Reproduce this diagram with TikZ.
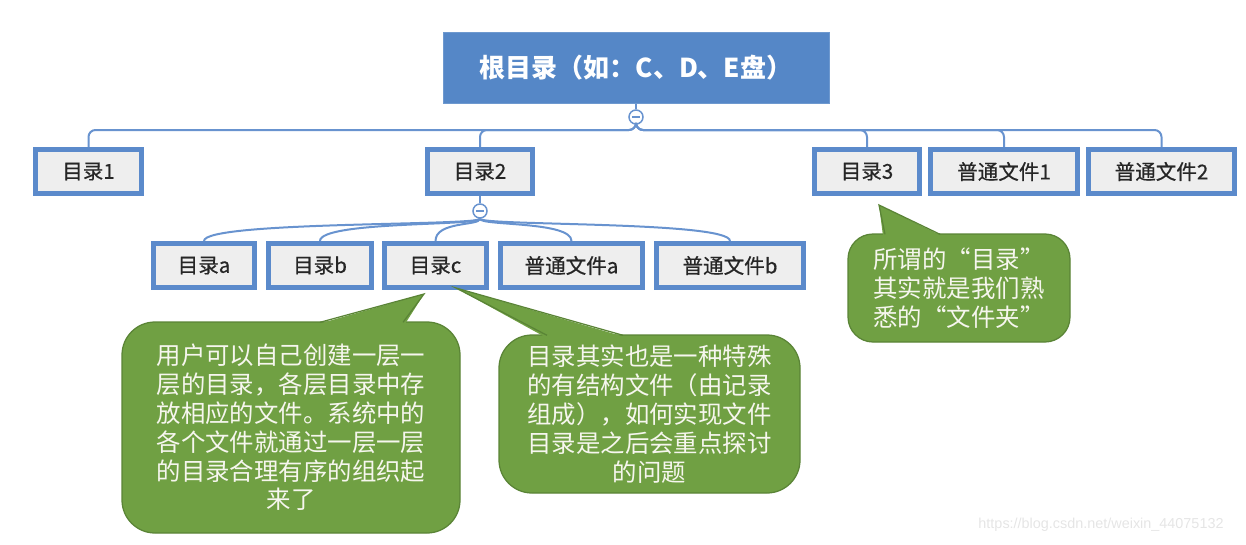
\documentclass[tikz,border=0pt]{standalone}
\usepackage{fontspec}
\usetikzlibrary{calc}
\setmainfont{Noto Sans CJK SC}
\setsansfont{Noto Sans CJK SC}
\newfontfamily\lblfont[FakeBold=0.6]{Noto Sans CJK SC}
\newfontfamily\wmfont{Liberation Sans}
\definecolor{boxblue}{HTML}{5B8ACB}
\definecolor{rootblue}{HTML}{5587C7}
\definecolor{boxgray}{HTML}{EEEEEE}
\definecolor{linkblue}{HTML}{6893CF}
\definecolor{calgreen}{HTML}{70A043}
\definecolor{calborder}{HTML}{5A8436}
\definecolor{caltext}{HTML}{F6F6EE}
\begin{document}
\begin{tikzpicture}[x=0.02cm,y=-0.02cm,
  rootbox/.style={fill=rootblue, draw=rootblue!85!white, line width=0.02cm,
    minimum width=386*0.02cm, minimum height=70*0.02cm, text=white,
    font=\fontsize{14.8}{16}\selectfont\bfseries, inner sep=0pt},
  itembox/.style={fill=boxgray, draw=boxblue, line width=0.1cm,
    minimum height=44*0.02cm, inner sep=0pt, text=black!85,
    font=\lblfont\fontsize{11.7}{13}\selectfont},
  toggle/.style={circle, fill=white, draw=linkblue, line width=0.03cm,
    minimum size=14*0.02cm, inner sep=0pt},
  link/.style={draw=linkblue, line width=0.04cm},
  callout/.style={fill=calgreen, draw=calborder, line width=0.025cm,
    rounded corners=0.66cm, inner sep=0pt, align=center, text=caltext,
    font=\fontsize{13.9}{16.4}\selectfont},
  tailfill/.style={fill=calgreen, draw=none},
  tailline/.style={draw=calborder, line width=0.025cm, line join=miter}
]
\useasboundingbox (0,0) rectangle (1246,544);

% root
\node[rootbox] (root) at (636,68) {根目录（如：C、D、E盘）};
\node[toggle] (t0) at (636,117) {};
\draw[linkblue, line width=0.035cm] ($(t0.center)+(-4,0)$) -- ($(t0.center)+(4,0)$);

% level 1
\node[itembox, minimum width=106*0.02cm] (d1) at (88.5,171.5) {目录1};
\node[itembox, minimum width=105*0.02cm] (d2) at (480,171.5) {目录2};
\node[itembox, minimum width=105*0.02cm] (d3) at (867,171.5) {目录3};
\node[itembox, minimum width=147*0.02cm] (f1) at (1004,171.5) {普通文件1};
\node[itembox, minimum width=146*0.02cm] (f2) at (1161.5,171.5) {普通文件2};

\draw[link] (root.south) -- (t0.north);
\foreach \c in {d1,d2,d3,f1,f2}{
  \draw[link, rounded corners=0.14cm] (t0.south) -- (636,130) -| (\c.north);
}

% level 2
\node[toggle] (t2) at (480,211) {};
\draw[linkblue, line width=0.035cm] ($(t2.center)+(-4,0)$) -- ($(t2.center)+(4,0)$);
\draw[link] (d2.south) -- (t2.north);

\node[itembox, minimum width=101*0.02cm] (da) at (204,265.5) {目录a};
\node[itembox, minimum width=103*0.02cm] (db) at (320,265.5) {目录b};
\node[itembox, minimum width=102*0.02cm] (dc) at (435.5,265.5) {目录c};
\node[itembox, minimum width=142*0.02cm] (fa) at (571.5,265.5) {普通文件a};
\node[itembox, minimum width=147*0.02cm] (fb) at (730,265.5) {普通文件b};

\foreach \c/\x in {da/204,db/320,dc/435.5,fa/571.5,fb/730}{
  \draw[link] (t2.south) .. controls (480,226) and (\x,221) .. (\c.north);
}

% callouts
\node[callout, minimum width=338*0.02cm, minimum height=211*0.02cm] (c1) at (291,427.5)
  {用户可以自己创建一层一\\层的目录，各层目录中存\\放相应的文件。系统中的\\各个文件就通过一层一层\\的目录合理有序的组织起\\来了};
\coordinate (p1) at (424,294);
\fill[tailfill] (318,324) -- (p1) -- (405,324) -- cycle;
\draw[tailline] (320,322.3) -- (p1) -- (403,322.3);

\node[callout, minimum width=301*0.02cm, minimum height=158*0.02cm] (c2) at (649.5,414)
  {目录其实也是一种特殊\\的有结构文件（由记录\\组成），如何实现文件\\目录是之后会重点探讨\\的问题};
\coordinate (p2) at (456,288);
\fill[tailfill] (545,337) -- (p2) -- (625,337) -- cycle;
\draw[tailline] (547,335.3) -- (p2) -- (623,335.3);

\node[callout, rounded corners=0.5cm, minimum width=222*0.02cm, minimum height=108*0.02cm] (c3) at (959,288)
  {所谓的“目录”\\其实就是我们熟\\悉的“文件夹”};
\coordinate (p3) at (879,205);
\fill[tailfill] (883,236) -- (p3) -- (942,236) -- cycle;
\draw[tailline] (885,234.3) -- (p3) -- (940,234.3);

% watermark
\node[text=black!10, font=\wmfont\fontsize{8.2}{10}\selectfont, inner sep=0pt] (wm) at (1101,525) {https://blog.csdn.net/weixin\_44075132};
\end{tikzpicture}
\end{document}
